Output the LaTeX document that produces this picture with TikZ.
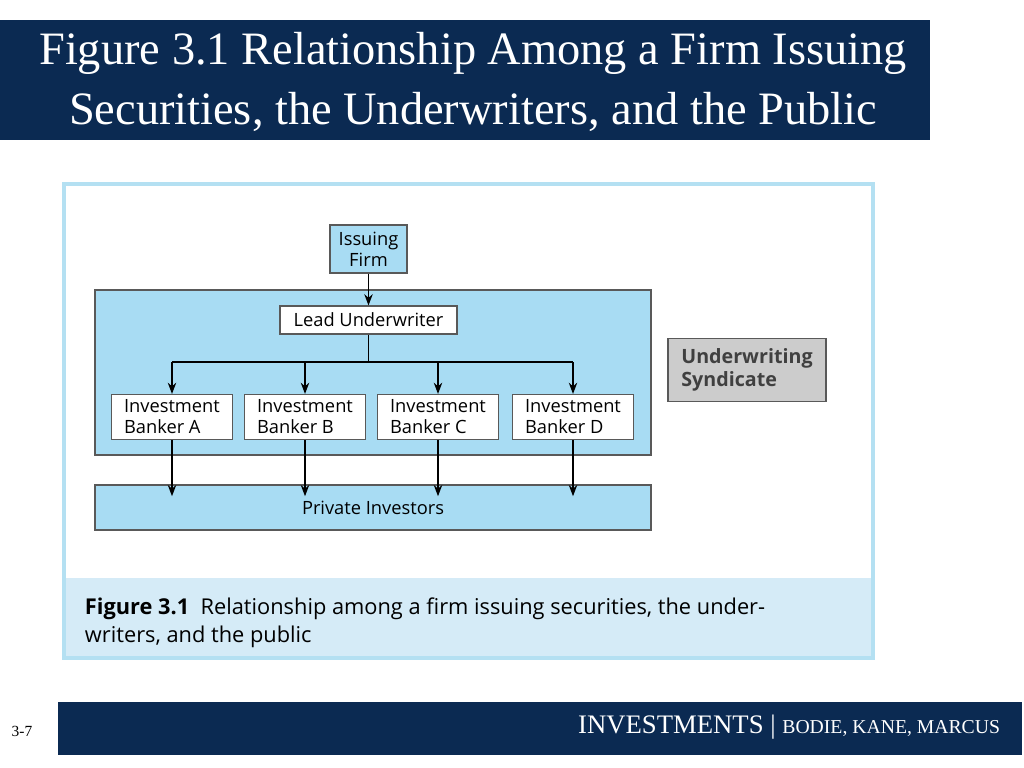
\documentclass[tikz,border=0pt]{standalone}
\usepackage{fontspec}
\setsansfont{Open Sans}
\setmainfont{Liberation Serif}
\usetikzlibrary{arrows.meta}
\definecolor{navy}{HTML}{0B2A52}
\definecolor{boxblue}{HTML}{A8DCF3}
\definecolor{panelblue}{HTML}{D5EBF7}
\definecolor{rimblue}{HTML}{B4E0F2}
\tikzset{
  blk/.style={draw=gray!70!black, fill=boxblue, line width=0.8pt},
  wbox/.style={draw=gray!70!black, fill=white, line width=0.8pt, inner sep=1pt, font=\sffamily\fontsize{13}{15}\selectfont, align=left},
  flow/.style={-{Stealth[length=8pt, width=6pt]}, line width=1.1pt}
}
\begin{document}
\begin{tikzpicture}[x=0.025cm, y=-0.025cm]
      \useasboundingbox (0, 0) rectangle (1024, 768);
      % title
      \fill[navy] (0, 20) rectangle (930, 140);
      \node[text=white, align=center, font=\rmfamily\fontsize{33}{43}\selectfont] (title) at (473, 82) {Figure 3.1 Relationship Among a Firm Issuing\\Securities, the Underwriters, and the Public};
      % panel
      \fill[panelblue] (64, 578) rectangle (873, 658);
      \draw[rimblue, line width=2.5pt] (64, 184) rectangle (873, 658);
      \fill[white] (66, 186) rectangle (871, 576);
      \draw[blk] (95, 290) rectangle (651, 455);
      \draw[blk] (95, 485) rectangle (651, 530);
      \node[font=\sffamily\fontsize{13}{15}\selectfont] (inv) at (373, 508) {Private Investors};
      \node[wbox, fill=boxblue, minimum width=77*0.025cm, minimum height=48*0.025cm, align=center] (firm) at (368.5, 249) {Issuing\\Firm};
      \node[wbox, minimum width=177*0.025cm, minimum height=28*0.025cm] (lead) at (368.5, 320) {Lead Underwriter};
      \node[wbox, minimum width=121*0.025cm, minimum height=45*0.025cm] (ba) at (172, 417) {Investment\\Banker A};
      \node[wbox, minimum width=121*0.025cm, minimum height=45*0.025cm] (bb) at (305, 417) {Investment\\Banker B};
      \node[wbox, minimum width=121*0.025cm, minimum height=45*0.025cm] (bc) at (438, 417) {Investment\\Banker C};
      \node[wbox, minimum width=121*0.025cm, minimum height=45*0.025cm] (bd) at (573, 417) {Investment\\Banker D};
      \node[draw=gray!70!black, fill=gray!40, line width=0.8pt, align=left, minimum width=158*0.025cm, minimum height=63*0.025cm, font=\sffamily\bfseries\fontsize{14}{16}\selectfont, text=black!75] (synd) at (747, 370) {Underwriting\\Syndicate};
      \draw[flow] (firm) -- (lead);
      \coordinate (split) at (368.5, 362);
      \draw[line width=1.1pt] (lead) -- (split);
      \draw[line width=1.1pt] (ba.north |- split) -- (bd.north |- split);
      \foreach \b in {ba, bb, bc, bd} {
        \draw[flow] (\b.north |- split) -- (\b.north);
        \draw[flow] (\b.south) -- (\b.south |- inv.north);
      }
      % caption
      \node[anchor=north west, align=left, font=\sffamily\fontsize{15.5}{20}\selectfont] (cap) at (80, 593) {\textbf{Figure 3.1}\ \ Relationship among a firm issuing securities, the under-\\writers, and the public};
      % footer
      \fill[navy] (58, 702) rectangle (1022, 755);
      \node[text=white, anchor=east, font=\rmfamily\fontsize{19}{22}\selectfont] (foot) at (1005, 727) {INVESTMENTS | {\fontsize{14}{16}\selectfont BODIE, KANE, MARCUS}};
      \node[font=\rmfamily\fontsize{11}{13}\selectfont] (pg) at (22, 731) {3-7};
\end{tikzpicture}
\end{document}
